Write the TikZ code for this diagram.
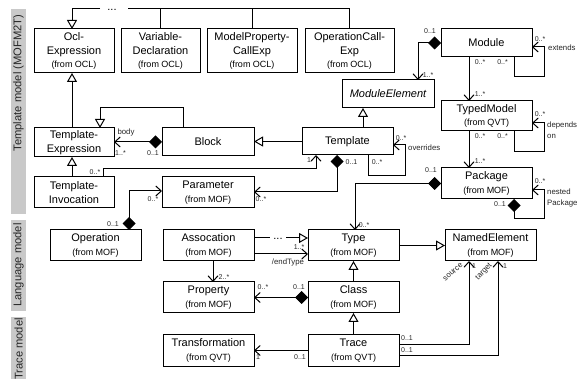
\documentclass[tikz,border=0pt]{standalone}
\usepackage{fontspec}
\setmainfont{Liberation Sans}
\usetikzlibrary{arrows.meta}
\newcommand{\frm}[1]{{\fontsize{9}{11}\selectfont (from #1)}}
\tikzset{
  cls/.style={draw=black,line width=1pt,fill=white,inner sep=0pt,outer sep=0pt,align=center,
    font=\fontsize{11}{13.4}\selectfont},
  c91/.style={cls,minimum width=91pt,minimum height=31pt},
  lab/.style={inner sep=0pt,font=\fontsize{7}{8}\selectfont,text=black!85},
  rolelab/.style={inner sep=0pt,anchor=west,font=\fontsize{7.8}{11}\selectfont,align=left,text=black!85},
  side/.style={inner sep=0pt,rotate=90,font=\fontsize{11.2}{13}\selectfont,text=black!85},
  bar/.style={fill=black!21,draw=none},
  conn/.style={line width=1pt,draw=black},
  gen/.style={conn,-{Triangle[open,fill=white,length=9pt,width=10pt,line width=1pt]}},
  nav/.style={conn,-{Straight Barb[length=5.5pt,width=10pt,line width=1pt]}},
  comp/.style={conn,{Diamond[length=13pt,width=13pt]}-{Straight Barb[length=5.5pt,width=10pt,line width=1pt]}},
}
\begin{document}
\begin{tikzpicture}[x=1pt,y=-1pt]
\useasboundingbox (0,0) rectangle (581,379);
% side bars
\fill[bar] (11,9) rectangle (26,214);
\fill[bar] (11,220) rectangle (26,311);
\fill[bar] (11,317) rectangle (26,379);
\node[side] (sa) at (18.5,83) {Template model (MOFM2T)};
\node[side] (sb) at (18.5,265) {Language model};
\node[side] (sc) at (18.5,349) {Trace model};
% classes
\node[cls,minimum width=80pt,minimum height=44pt] (ocl) at (74,51) {Ocl-\\Expression\\\frm{OCL}};
\node[cls,minimum width=79pt,minimum height=44pt] (var) at (160.5,51) {Variable-\\Declaration\\\frm{OCL}};
\node[cls,minimum width=90pt,minimum height=44pt] (mp) at (252,51) {ModelProperty-\\CallExp\\\frm{OCL}};
\node[cls,minimum width=89pt,minimum height=44pt] (op) at (349.5,51) {OperationCall-\\Exp\\\frm{OCL}};
\node[cls,minimum width=80pt,minimum height=29pt] (tx) at (74,142.5) {Template-\\Expression};
\node[cls,minimum width=92pt,minimum height=28pt] (block) at (208,142) {Block};
\node[cls,minimum width=91pt,minimum height=27pt] (tmpl) at (347.5,141.5) {Template};
\node[cls,minimum width=92pt,minimum height=28pt] (me) at (388,94) {\itshape ModuleElement};
\node[cls,minimum width=91pt,minimum height=28pt] (module) at (486.5,43) {Module};
\node[cls,minimum width=91pt,minimum height=30pt] (typed) at (486.5,116) {TypedModel\\\frm{QVT}};
\node[c91] (pkg) at (486.5,183.5) {Package\\\frm{MOF}};
\node[cls,minimum width=80pt,minimum height=31pt] (ti) at (74,192.5) {Template-\\Invocation};
\node[cls,minimum width=92pt,minimum height=31pt] (param) at (208,192.5) {Parameter\\\frm{MOF}};
\node[c91] (oper) at (95.5,245.5) {Operation\\\frm{MOF}};
\node[c91] (assoc) at (208.5,245.5) {Assocation\\\frm{MOF}};
\node[c91] (type) at (353.5,245.5) {Type\\\frm{MOF}};
\node[c91] (named) at (490.5,245.5) {NamedElement\\\frm{MOF}};
\node[c91] (prop) at (208.5,297.5) {Property\\\frm{MOF}};
\node[c91] (class) at (353.5,297.5) {Class\\\frm{MOF}};
\node[c91] (transf) at (208.5,350.5) {Transformation\\\frm{QVT}};
\node[c91] (trace) at (353.5,350.5) {Trace\\\frm{QVT}};
% top bus
\coordinate (busl) at (100,9);
\coordinate (busr) at (128,9);
\node[inner sep=0pt,font=\fontsize{11}{11}\selectfont] (busdots) at (112,9.5) {...};
\draw[gen] (busl) -| ([xshift=-2pt]ocl.north);
\draw[conn] (busr) -| (var.north);
\draw[conn] (busr) -| (mp.north);
\draw[conn] (busr) -| (op.north);
% generalisations
\draw[gen] ([xshift=-2pt]tx.north) -- ([xshift=-2pt]ocl.south);
\draw[gen] ([xshift=-25pt]block.north) |- (100,108) -- ([xshift=26pt]tx.north);
\draw[gen] (tmpl.west) -- (tmpl.west -| block.east);
\draw[gen] ([xshift=-25pt]me.south |- tmpl.north) -- ([xshift=-25pt]me.south);
\draw[gen] ([xshift=-2pt]ti.north) -- ([xshift=-2pt]tx.south);
\draw[gen] (class.north) -- (type.south);
\draw[gen] (trace.north) -- (class.south);
\draw[gen] (type.east) -- (type.east -| named.west);
% compositions
\draw[comp] (block.west) -- (block.west -| tx.east);
\draw[comp] (module.west) -| (418,80);
\draw[comp] (pkg.west) -| ([xshift=1.5pt]type.north);
\draw[comp] ([xshift=-10.5pt]tmpl.south) |- (param.east |- 337,192);
\draw[comp] ([xshift=33.5pt]oper.north) |- (param.west |- 129,191);
\draw[comp] (class.west) -- (class.west -| prop.east);
\draw[comp] ([xshift=27.5pt]pkg.south) |- (544,219) |- ([yshift=-6.5pt]pkg.east);
% navigable
\draw[nav] ([xshift=-17.5pt]module.south) -- ([xshift=-17.5pt]typed.north);
\draw[nav] ([xshift=-17.5pt]typed.south) -- ([xshift=-17.5pt]pkg.north);
\draw[nav] ([xshift=27.5pt]module.south) |- (544,77) |- ([yshift=-4pt]module.east);
\draw[nav] ([xshift=27.5pt]typed.south) |- (544,152) |- ([yshift=-7pt]typed.east);
\draw[nav] ([xshift=20.5pt]tmpl.south) |- (405,176) |- ([yshift=-3.5pt]tmpl.east);
\draw[nav] (103.5,177) |- (316,168.5) -- (316,155);
\draw[nav] ([xshift=4.5pt]assoc.south) -- ([xshift=4.5pt]prop.north);
\draw[nav] (trace.west) -- (trace.west -| transf.east);
\draw[nav] (trace.east |- 0,344) -| ([xshift=-21.5pt]named.south);
\draw[nav] (trace.east |- 0,355) -| ([xshift=7.5pt]named.south);
\draw[nav] (assoc.east |- 0,254) -- (type.west |- 0,254);
% association with a gap
\coordinate (gapa) at (270,238);
\coordinate (gapb) at (286,238);
\draw[conn] (assoc.east |- gapa) -- (gapa);
\node[inner sep=0pt,font=\fontsize{11}{11}\selectfont] (gapdots) at (278,238.5) {...};
\draw[gen] (gapb) -- (type.west |- gapb);
% multiplicities
\node[lab] (m1) at (120.5,153) {1..*};
\node[lab] (m2) at (153,153) {0..1};
\node[lab] (m3) at (430,31) {0..1};
\node[lab] (m4) at (428,75) {1..*};
\node[lab] (m5) at (480,62) {0..*};
\node[lab] (m6) at (502.5,62) {0..*};
\node[lab] (m7) at (540,39) {0..*};
\node[lab] (m8) at (480,94) {1..*};
\node[lab] (m9) at (480,136) {0..*};
\node[lab] (m10) at (502.5,136) {0..*};
\node[lab] (m11) at (540,114) {0..*};
\node[lab] (m12) at (480,161) {1..*};
\node[lab] (m13) at (431,170) {0..1};
\node[lab] (m14) at (540,181) {0..*};
\node[lab] (m15) at (500,204) {0..1};
\node[lab] (m16) at (364,225) {0..*};
\node[lab] (m17) at (401,138) {0..*};
\node[lab] (m18) at (377,162) {0..*};
\node[lab] (m19) at (351.5,162) {0..1};
\node[lab] (m20) at (309,160) {1};
\node[lab] (m21) at (95,172) {0..*};
\node[lab] (m22) at (153,199) {0..*};
\node[lab] (m23) at (261,199) {0..*};
\node[lab] (m24) at (113,224) {0..1};
\node[lab] (m25) at (299,247.5) {1..*};
\node[lab] (m26) at (224,277) {2..*};
\node[lab] (m27) at (263,287) {0..*};
\node[lab] (m28) at (299,287) {0..1};
\node[lab] (m29) at (258,357) {1};
\node[lab] (m30) at (300,357) {0..1};
\node[lab] (m31) at (407,338) {0..1};
\node[lab] (m32) at (407,350) {0..1};
\node[lab] (m33) at (474,266) {1};
\node[lab] (m34) at (505,266) {1};
% roles
\node[rolelab,anchor=center] (r1) at (126,132) {body};
\node[rolelab] (r2) at (548,48) {extends};
\node[rolelab] (r3) at (547,130.5) {depends\\on};
\node[rolelab] (r4) at (408,148) {overrides};
\node[rolelab] (r5) at (547,197.5) {nested\\Package};
\node[rolelab,anchor=center] (r6) at (288,262) {/endType};
\node[rolelab,anchor=center,rotate=40] (r7) at (453,272) {source};
\node[rolelab,anchor=center,rotate=46] (r8) at (484,272) {target};
\end{tikzpicture}
\end{document}
